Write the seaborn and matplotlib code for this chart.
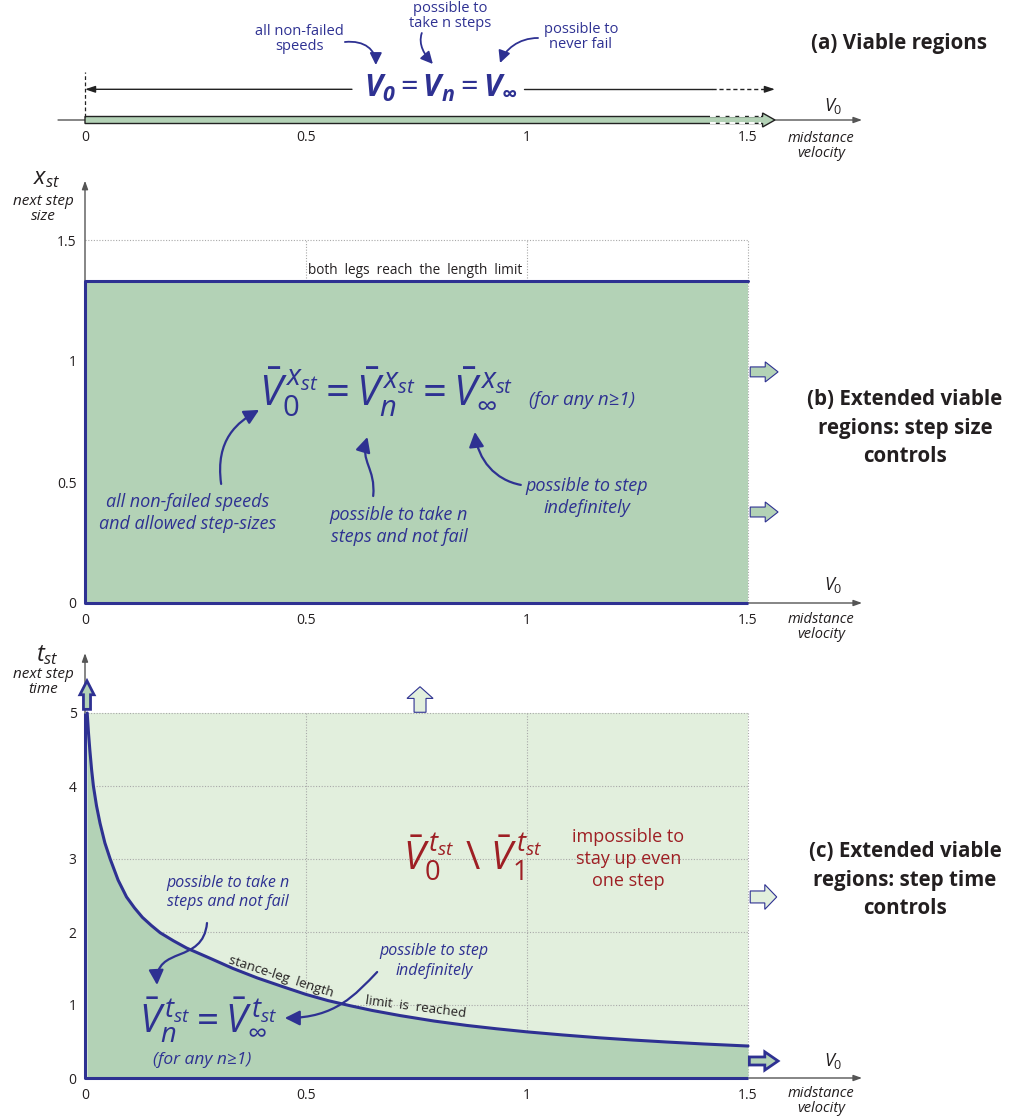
import matplotlib
matplotlib.use("Agg")
import matplotlib.pyplot as plt
import matplotlib.patches as mpatches
from matplotlib.path import Path
import seaborn as sns

# ---------------- data ----------------
speed_ticks = [0, 0.5, 1, 1.5]
speed_labels = ["0", "0.5", "1", "1.5"]
size_ticks = [0, 0.5, 1, 1.5]
size_labels = ["0", "0.5", "1", "1.5"]
time_ticks = [0, 1, 2, 3, 4, 5]
time_labels = ["0", "1", "2", "3", "4", "5"]

speed_max = 1.5          # largest midstance velocity shown
step_size_limit = 1.33   # both legs reach the length limit
step_time_max = 5        # top of the step-time region shown

# stance-leg length limit: longest allowed step time per midstance velocity
limit_speed = [0.005, 0.008, 0.011, 0.015, 0.019, 0.026, 0.034, 0.045, 0.057,
               0.075, 0.094, 0.112, 0.13, 0.15, 0.17, 0.20, 0.23,
               0.283, 0.335, 0.39, 0.448, 0.50, 0.55, 0.60, 0.65, 0.713,
               0.79, 0.864, 0.93, 1.0, 1.08, 1.165, 1.24, 1.316, 1.4, 1.5]
limit_time = [5.0, 4.72, 4.49, 4.22, 4.0, 3.73, 3.49, 3.22, 3.0,
              2.71, 2.48, 2.33, 2.20, 2.09, 1.99, 1.88, 1.78,
              1.64, 1.50, 1.37, 1.25, 1.145, 1.06, 0.99, 0.925, 0.855,
              0.78, 0.72, 0.675, 0.632, 0.59, 0.55, 0.52, 0.493, 0.466, 0.438]

# ---------------- style ----------------
BLUE = "#2e3192"
DARK = "#b3d2b6"
LIGHT = "#e2efdd"
RED = "#9e1f24"
INK = "#231f20"
AXIS = "#555555"
GRID = "#a9a9a9"

sns.set_theme(style="white")
plt.rcParams["font.family"] = ["Open Sans", "DejaVu Sans"]
plt.rcParams.update({
    "mathtext.fontset": "custom",
    "mathtext.rm": "Open Sans",
    "mathtext.it": "Open Sans:italic",
    "mathtext.bf": "Open Sans:italic:bold",
    "mathtext.sf": "Open Sans",
    "mathtext.fallback": "cm",
    "axes.facecolor": "none",
    "figure.facecolor": "white",
})

fig = plt.figure(figsize=(10.1, 11.2), dpi=100)
XLIM = (-85 / 442, 925 / 442)

ax_a = fig.add_axes([0, 1 - 160 / 1120, 1, 160 / 1120])
ax_b = fig.add_axes([0, 1 - 640 / 1120, 1, 480 / 1120])
ax_c = fig.add_axes([0, 0, 1, 480 / 1120])
ax_a.set_ylim(-40, 120)
ax_b.set_ylim((603 - 640) / 242, (603 - 160) / 242)
ax_c.set_ylim((1078 - 1120) / 73, (1078 - 640) / 73)

for ax in (ax_a, ax_b, ax_c):
    ax.set_xlim(XLIM)
    ax.grid(False)
    for s in ax.spines.values():
        s.set_visible(False)
    ax.spines["bottom"].set_position(("data", 0))
    ax.spines["left"].set_position(("data", 0))
    ax.set_xticks(speed_ticks, speed_labels)
    ax.tick_params(axis="x", length=2, width=0.8, color=AXIS, pad=5,
                   labelsize=10, labelcolor=INK, direction="out")
    ax.tick_params(axis="y", length=4.5, width=0.8, color=AXIS, pad=1.5,
                   labelsize=10, labelcolor=INK, direction="out")

ax_a.set_yticks([])
ax_a.tick_params(axis="x", length=0, pad=7)
ax_b.set_yticks(size_ticks, size_labels)
ax_c.set_yticks(time_ticks, time_labels)


def axis_arrow(ax, start, end):
    ax.annotate("", xy=end, xytext=start,
                arrowprops=dict(arrowstyle="-|>,head_length=0.5,head_width=0.18",
                                mutation_scale=10, color=AXIS, lw=1.0,
                                shrinkA=0, shrinkB=0), zorder=1)


def curved_arrow(ax, pts, color=BLUE, lw=1.6, scale=15):
    path = Path(pts, [Path.MOVETO, Path.CURVE4, Path.CURVE4, Path.CURVE4])
    ax.add_patch(mpatches.FancyArrowPatch(
        path=path, arrowstyle="-|>,head_length=0.6,head_width=0.3",
        mutation_scale=scale, color=color, lw=lw, shrinkA=0, shrinkB=0,
        zorder=6))


def block_arrow(ax, x, y, dx, dy, width, head_width, head_length, fc, lw):
    ax.add_patch(mpatches.FancyArrow(
        x, y, dx, dy, width=width, head_width=head_width,
        head_length=head_length, length_includes_head=True,
        fc=fc, ec=BLUE, lw=lw, zorder=6, clip_on=False))


def velocity_label(ax, y_sym, y_words):
    ax.text(1.692, y_sym, r"$V_0$", fontsize=13, color=INK,
            ha="center", va="center")
    ax.text(1.665, y_words, "midstance\nvelocity", fontsize=10.5,
            style="italic", color=INK, ha="center", va="center",
            linespacing=1.0)


def axis_name(ax, x, y_sym, y_words, sym, words):
    ax.text(x + 0.009, y_sym, sym, fontsize=17, color=INK,
            ha="center", va="center")
    ax.text(x, y_words, words, fontsize=11, style="italic",
            color=INK, ha="center", va="center", linespacing=1.0)


# ================= (a) viable regions =================
axis_arrow(ax_a, (-0.061, 0), (1.758, 0))
ax_a.add_patch(mpatches.FancyArrow(
    0, 0, 1.561, 0, width=7, head_width=14, head_length=0.028,
    length_includes_head=True, fc=DARK, ec="#222222", lw=1.0, zorder=3))
for yy in (3.5, -3.5):
    ax_a.plot([1.415, 1.53], [yy, yy], color="white", lw=1.4,
              ls=(0, (3, 2)), zorder=4)
ax_a.plot([0, 0], [3, 48], color="#222222", lw=0.9, ls=(0, (3, 2)), zorder=3)

ax_a.annotate("", xy=(0, 30.7), xytext=(0.604, 30.7),
              arrowprops=dict(arrowstyle="-|>,head_length=0.6,head_width=0.2",
                              mutation_scale=10, color="#222222", lw=1.0,
                              shrinkA=0, shrinkB=0))
ax_a.plot([0.993, 1.418], [30.7, 30.7], color="#222222", lw=1.0)
ax_a.plot([1.418, 1.545], [30.7, 30.7], color="#222222", lw=1.0,
          ls=(0, (3, 2)))
ax_a.annotate("", xy=(1.561, 30.7), xytext=(1.54, 30.7),
              arrowprops=dict(arrowstyle="-|>,head_length=0.6,head_width=0.2",
                              mutation_scale=10, color="#222222", lw=1.0,
                              shrinkA=0, shrinkB=0))

ax_a.text(0.805, 23.3,
          r"$\mathbf{V_0} = \mathbf{V_n} = \mathbf{V}_{\mathbf{\infty}}$",
          fontsize=22, color=BLUE, ha="center", va="baseline")
ax_a.text(0.486, 81, "all non-failed\nspeeds", fontsize=10.5, color=BLUE,
          ha="center", va="center", linespacing=1.0)
ax_a.text(0.826, 104, "possible to\ntake n steps", fontsize=10.5, color=BLUE,
          ha="center", va="center", linespacing=1.0)
ax_a.text(1.122, 83, "possible to\nnever fail", fontsize=10.5, color=BLUE,
          ha="center", va="center", linespacing=1.0)
curved_arrow(ax_a, [(0.588, 78), (0.633, 80), (0.658, 70), (0.658, 55)],
             lw=1.3, scale=12)
curved_arrow(ax_a, [(0.762, 87), (0.753, 75), (0.769, 65), (0.787, 56)],
             lw=1.3, scale=12)
curved_arrow(ax_a, [(1.025, 82), (0.980, 82), (0.950, 70), (0.939, 57)],
             lw=1.3, scale=12)
ax_a.text(1.842, 77, "(a) Viable regions", fontsize=14.8, fontweight="bold",
          color=INK, ha="center", va="center")
velocity_label(ax_a, 14, -26)

# ================= (b) step size controls =================
ax_b.hlines([0.5, 1, 1.5], 0, speed_max, color=GRID, lw=0.8,
            ls=(0, (1, 1.5)), zorder=1)
ax_b.vlines([0.5, 1, 1.5], 0, 1.5, color=GRID, lw=0.8,
            ls=(0, (1, 1.5)), zorder=1)
ax_b.fill_between([0, speed_max], 0, step_size_limit, color=DARK, lw=0,
                  zorder=2)
sns.lineplot(x=[0, speed_max], y=[step_size_limit, step_size_limit], ax=ax_b,
             color=BLUE, lw=2.2, zorder=4)
ax_b.plot([0, 0, speed_max], [step_size_limit, 0, 0], color=BLUE, lw=2.2,
          zorder=4, solid_capstyle="butt")
axis_arrow(ax_b, (0, 0), (1.758, 0))
axis_arrow(ax_b, (0, 0), (0, 1.745))

axis_name(ax_b, -0.095, 1.756, 1.628, r"$x_{st}$", "next step\nsize")
ax_b.text(0.505, 1.376, "both  legs  reach  the  length  limit", fontsize=9.8,
          color=INK, ha="left", va="center")

ax_b.text(0.681, 0.872,
          r"$\bar{V}^{\,x_{st}}_{\mathit{0}} = \bar{V}^{\,x_{st}}_{n} = \bar{V}^{\,x_{st}}_{\infty}$",
          fontsize=30, color=BLUE, ha="center", va="center")
ax_b.text(1.124, 0.839, "(for any n≥1)", fontsize=13.5, style="italic",
          color=BLUE, ha="center", va="center")
ax_b.text(0.233, 0.372, "all non-failed speeds\nand allowed step-sizes",
          fontsize=13, style="italic", color=BLUE, ha="center", va="center",
          linespacing=1.3)
ax_b.text(0.710, 0.318, "possible to take n\nsteps and not fail",
          fontsize=13, style="italic", color=BLUE, ha="center", va="center",
          linespacing=1.3)
ax_b.text(1.136, 0.438, "possible to step\nindefinitely",
          fontsize=13, style="italic", color=BLUE, ha="center", va="center",
          linespacing=1.3)
curved_arrow(ax_b, [(0.308, 0.492), (0.294, 0.678), (0.346, 0.748),
                    (0.394, 0.798)])
curved_arrow(ax_b, [(0.652, 0.442), (0.658, 0.558), (0.622, 0.583),
                    (0.639, 0.686)])
curved_arrow(ax_b, [(0.986, 0.488), (0.928, 0.508), (0.889, 0.591),
                    (0.882, 0.707)])
for yy in (0.955, 0.376):
    block_arrow(ax_b, 1.505, yy, 0.063, 0, 0.041, 0.083, 0.029, DARK, 0.8)
ax_b.text(1.855, 0.723, "(b) Extended viable\nregions: step size\ncontrols",
          fontsize=14.8, fontweight="bold", color=INK, ha="center",
          va="center", linespacing=1.45)
velocity_label(ax_b, 0.074, -0.1)

# ================= (c) step time controls =================
ax_c.fill_between([0, speed_max], 0, step_time_max, color=LIGHT, lw=0,
                  zorder=1)
ax_c.hlines([1, 2, 3, 4, 5], 0, speed_max, color=GRID, lw=0.8,
            ls=(0, (1, 1.5)), zorder=2)
ax_c.vlines([0.5, 1, 1.5], 0, step_time_max, color=GRID, lw=0.8,
            ls=(0, (1, 1.5)), zorder=2)
ax_c.fill_between(limit_speed, 0, limit_time, color=DARK, lw=0, zorder=3)
ax_c.fill_between([0, limit_speed[0]], 0, limit_time[0], color=DARK, lw=0,
                  zorder=3)
sns.lineplot(x=limit_speed, y=limit_time, ax=ax_c, color=BLUE, lw=2.2,
             sort=False, estimator=None, zorder=5)
ax_c.plot([0, 0, speed_max], [step_time_max, 0, 0], color=BLUE, lw=2.2,
          zorder=5, solid_capstyle="butt")
axis_arrow(ax_c, (0, 0), (1.758, 0))
axis_arrow(ax_c, (0, 0), (0, 5.82))

axis_name(ax_c, -0.095, 5.79, 5.42, r"$t_{st}$", "next step\ntime")

block_arrow(ax_c, 0.0045, 5.05, 0, 0.39, 0.016, 0.032, 0.19, DARK, 2.0)
block_arrow(ax_c, 0.758, 5.01, 0, 0.35, 0.027, 0.059, 0.16, LIGHT, 0.8)
block_arrow(ax_c, 1.505, 2.48, 0.06, 0, 0.164, 0.34, 0.027, LIGHT, 0.8)
block_arrow(ax_c, 1.503, 0.233, 0.065, 0, 0.11, 0.25, 0.03, DARK, 2.0)

ax_c.text(0.878, 3.03,
          r"$\bar{V}^{\,t_{st}}_{\mathit{0}}\ \backslash\ \bar{V}^{\,t_{st}}_{\mathit{1}}$",
          fontsize=28, color=RED, ha="center", va="center")
ax_c.text(1.229, 3.0, "impossible to\nstay up even\none step", fontsize=13,
          color=RED, ha="center", va="center", linespacing=1.3)

ax_c.text(0.278, 0.795,
          r"$\bar{V}^{\,t_{st}}_{n} = \bar{V}^{\,t_{st}}_{\infty}$",
          fontsize=28, color=BLUE, ha="center", va="center")
ax_c.text(0.265, 0.247, "(for any n≥1)", fontsize=12.5, style="italic",
          color=BLUE, ha="center", va="center")
ax_c.text(0.324, 2.54, "possible to take n\nsteps and not fail",
          fontsize=11.5, style="italic", color=BLUE, ha="center",
          va="center", linespacing=1.3)
ax_c.text(0.790, 1.60, "possible to step\nindefinitely",
          fontsize=11.5, style="italic", color=BLUE, ha="center",
          va="center", linespacing=1.3)
curved_arrow(ax_c, [(0.276, 2.123), (0.267, 1.548), (0.158, 1.822),
                    (0.163, 1.274)])
curved_arrow(ax_c, [(0.661, 1.452), (0.611, 1.137), (0.566, 0.822),
                    (0.452, 0.822)])
ax_c.text(0.443, 1.39, "stance-leg  length", fontsize=9.5, color=INK,
          rotation=-18, ha="center", va="center", rotation_mode="anchor")
ax_c.text(0.749, 0.965, "limit  is  reached", fontsize=9.5, color=INK,
          rotation=-7.5, ha="center", va="center", rotation_mode="anchor")
ax_c.text(1.855, 2.71, "(c) Extended viable\nregions: step time\ncontrols",
          fontsize=14.8, fontweight="bold", color=INK, ha="center",
          va="center", linespacing=1.45)
velocity_label(ax_c, 0.23, -0.32)

fig.savefig("out.png", dpi=100)
